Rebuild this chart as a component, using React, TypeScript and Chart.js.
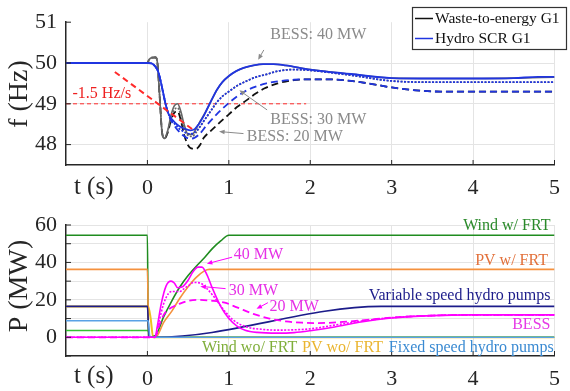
import React, { useEffect, useRef } from 'react';
import { Chart, registerables } from 'chart.js';
Chart.register(...registerables);

const FONT = "'Liberation Serif', 'Times New Roman', serif";
const GRID = '#e4e4e4';
const AXIS = '#262626';

// ---------- shared axis ----------
const xTicks = [-1, 0, 1, 2, 3, 4, 5];

// ---------- top: frequency (Hz) ----------
const fTicks = [48, 49, 50, 51];

const tH40 = [-1, 0, 0.05, 0.09, 0.13, 0.16, 0.19, 0.22, 0.25, 0.28, 0.31, 0.36, 0.41, 0.47, 0.53, 0.58, 0.63, 0.68, 0.73, 0.79, 0.85, 0.92, 1.0, 1.09, 1.18, 1.3, 1.42, 1.55, 1.7, 2.0, 2.5, 3.0, 3.5, 4.0, 4.5, 4.8, 5.0];
const fH40 = [50, 50, 49.99, 49.93, 49.8, 49.58, 49.3, 49.02, 48.8, 48.68, 48.6, 48.5, 48.43, 48.38, 48.35, 48.38, 48.5, 48.66, 48.86, 49.1, 49.33, 49.53, 49.68, 49.8, 49.88, 49.94, 49.97, 49.97, 49.94, 49.84, 49.73, 49.63, 49.62, 49.62, 49.63, 49.66, 49.66];

const tH30 = [-1, 0, 0.05, 0.09, 0.13, 0.16, 0.19, 0.22, 0.25, 0.28, 0.31, 0.36, 0.41, 0.47, 0.53, 0.58, 0.63, 0.7, 0.77, 0.85, 0.92, 1.0, 1.1, 1.22, 1.34, 1.46, 1.6, 1.8, 2.0, 2.5, 3.0, 3.5, 4.0, 5.0];
const fH30 = [50, 50, 49.99, 49.93, 49.8, 49.58, 49.3, 49.02, 48.8, 48.66, 48.57, 48.45, 48.36, 48.29, 48.26, 48.3, 48.4, 48.6, 48.8, 49.03, 49.18, 49.3, 49.44, 49.56, 49.66, 49.72, 49.8, 49.84, 49.82, 49.7, 49.56, 49.53, 49.53, 49.53];

const tH20 = [-1, 0, 0.05, 0.09, 0.13, 0.16, 0.19, 0.22, 0.25, 0.28, 0.32, 0.37, 0.43, 0.49, 0.55, 0.63, 0.73, 0.85, 1.0, 1.1, 1.22, 1.34, 1.46, 1.6, 1.8, 2.0, 2.2, 2.5, 2.8, 3.0, 3.3, 3.6, 4.0, 5.0];
const fH20 = [50, 50, 49.99, 49.93, 49.8, 49.58, 49.3, 49.02, 48.8, 48.63, 48.5, 48.36, 48.24, 48.16, 48.15, 48.24, 48.48, 48.74, 49.02, 49.18, 49.33, 49.43, 49.5, 49.55, 49.59, 49.6, 49.6, 49.56, 49.47, 49.4, 49.33, 49.3, 49.3, 49.3];

const tW40 = [-1, 0, 0.02, 0.05, 0.1, 0.12, 0.15, 0.18, 0.21, 0.25, 0.29, 0.33, 0.37, 0.41, 0.45, 0.5, 0.55, 0.6, 0.65, 0.73, 0.79, 0.85, 0.92, 1.0, 1.09, 1.18, 1.3, 1.42, 1.55, 1.7, 2.0, 2.5, 3.0, 3.5, 4.0, 4.5, 5.0];
const fW40 = [50, 50, 50.08, 50.13, 50.14, 50.05, 49.2, 48.3, 48.15, 48.35, 48.72, 48.95, 49.0, 48.82, 48.5, 48.25, 48.25, 48.4, 48.58, 48.86, 49.1, 49.33, 49.53, 49.68, 49.8, 49.88, 49.94, 49.97, 49.97, 49.94, 49.84, 49.73, 49.63, 49.62, 49.62, 49.63, 49.65];

const tW30 = [-1, 0, 0.02, 0.05, 0.1, 0.12, 0.15, 0.18, 0.21, 0.25, 0.29, 0.33, 0.37, 0.41, 0.45, 0.5, 0.55, 0.6, 0.65, 0.7, 0.77, 0.85, 0.92, 1.0, 1.1, 1.22, 1.34, 1.46, 1.6, 1.8, 2.0, 2.5, 3.0, 3.5, 4.0, 5.0];
const fW30 = [50, 50, 50.08, 50.13, 50.14, 50.05, 49.2, 48.3, 48.15, 48.33, 48.65, 48.85, 48.9, 48.72, 48.42, 48.22, 48.2, 48.3, 48.45, 48.6, 48.8, 49.03, 49.18, 49.3, 49.44, 49.56, 49.66, 49.72, 49.8, 49.84, 49.82, 49.7, 49.56, 49.53, 49.53, 49.53];

const tW20 = [-1, 0, 0.02, 0.05, 0.1, 0.12, 0.15, 0.18, 0.21, 0.25, 0.29, 0.33, 0.37, 0.41, 0.45, 0.5, 0.55, 0.6, 0.65, 0.69, 0.77, 0.85, 0.92, 1.0, 1.1, 1.22, 1.33, 1.44, 1.6, 1.8, 2.0, 2.2, 2.5, 2.8, 3.0, 3.3, 3.6, 4.0, 5.0];
const fW20 = [50, 50, 50.08, 50.13, 50.14, 50.05, 49.2, 48.3, 48.15, 48.3, 48.6, 48.78, 48.82, 48.6, 48.25, 47.98, 47.9, 47.9, 48.0, 48.16, 48.32, 48.47, 48.6, 48.74, 48.92, 49.09, 49.25, 49.38, 49.5, 49.58, 49.6, 49.6, 49.56, 49.47, 49.4, 49.33, 49.3, 49.3, 49.3];

const tRate = [-0.4, 0.55];
const fRate = [49.78, 48.38];
const tRef = [-1, 1.95];
const fRef = [49, 49];

// ---------- bottom: power (MW) ----------
const pTickMarks = [-10, 0, 10, 20, 30, 40, 50, 60];
const pTickLabels = [0, 20, 40, 60];

const tWindFRT = [-1, 0, 0.01, 0.1, 0.2, 0.3, 0.4, 0.5, 0.6, 0.7, 0.8, 0.9, 1.0, 5];
const pWindFRT = [54.5, 54.5, 0, 1, 11, 19.5, 27, 33, 38, 42.5, 47.5, 51.5, 54.5, 54.5];

const tPvFRT = [-1, 0, 0.015, 0.1, 0.2, 0.3, 0.4, 0.5, 0.6, 0.7, 0.76, 5];
const pPvFRT = [36.3, 36.3, 0, 0, 8, 14, 21, 27, 32, 35.5, 36.3, 36.3];

const tVarHydro = [-1, 0, 0.02, 0.1, 2.87, 5];
const pVarHydro = [16.5, 16.5, 0, 0, 16.5, 16.5];

const tFixHydro = [-1, 0.01, 0.03, 5];
const pFixHydro = [8.8, 8.8, 0, 0];

const tWindNo = [-1, 0.01, 0.03, 5];
const pWindNo = [3.6, 3.6, 0, 0];

const tPvNo = [-1, 0.01, 0.04, 0.07, 5];
const pPvNo = [16.5, 16.5, 10, 0, 0];

const tBess40 = [-1, 0.09, 0.13, 0.17, 0.23, 0.29, 0.33, 0.37, 0.43, 0.5, 0.56, 0.62, 0.67, 0.73, 0.8, 0.9, 1.0, 1.1, 1.2, 1.35, 1.6, 1.8, 2.0, 2.3, 2.6, 3.0, 3.5, 4.0, 5.0];
const pBess40 = [0, 0, 8, 18, 27.5, 30, 29, 26.5, 27, 30.5, 35, 37.5, 37.5, 33.5, 26, 16.5, 10, 6, 3.8, 2.6, 2.2, 2.5, 3.5, 5.5, 8, 10.3, 11.6, 12, 12];

const tBess30 = [-1, 0.09, 0.14, 0.2, 0.26, 0.3, 0.35, 0.4, 0.45, 0.5, 0.57, 0.65, 0.72, 0.82, 0.94, 1.06, 1.22, 1.4, 1.6, 1.8, 2.0, 2.3, 2.6, 3.0, 3.5, 4.0, 5.0];
const pBess30 = [0, 0, 8, 18, 23.5, 24.5, 24.5, 24.5, 26, 27.5, 29.3, 29, 26.5, 21.5, 14.5, 9, 5.5, 4.3, 3.8, 4, 4.5, 6.5, 8.5, 10.5, 11.6, 12, 12];

const tBess20 = [-1, 0.09, 0.15, 0.2, 0.25, 0.3, 0.4, 0.5, 0.6, 0.8, 0.95, 1.1, 1.3, 1.5, 1.7, 1.9, 2.1, 2.4, 2.7, 3.0, 3.5, 4.0, 5.0];
const pBess20 = [0, 0, 7, 12, 14.5, 16, 18, 19.5, 20, 19.5, 18.5, 16, 12.5, 10, 8.5, 7.8, 7.6, 8.2, 9.3, 10.5, 11.6, 12, 12];

const pts = (t: number[], v: number[]) => t.map((x, i) => ({ x, y: v[i] }));

function line(data: any, color: string, width = 1.5, dash: number[] = []) {
  return {
    data,
    borderColor: color,
    borderWidth: width,
    borderDash: dash,
    pointRadius: 0,
    fill: false,
    cubicInterpolationMode: 'monotone',
  };
}

function drawArrow(ctx: CanvasRenderingContext2D, x1: number, y1: number, x2: number, y2: number, color: string, head = 6) {
  const a = Math.atan2(y2 - y1, x2 - x1);
  ctx.save();
  ctx.strokeStyle = color;
  ctx.fillStyle = color;
  ctx.lineWidth = 1;
  ctx.beginPath();
  ctx.moveTo(x1, y1);
  ctx.lineTo(x2 - Math.cos(a) * head * 0.6, y2 - Math.sin(a) * head * 0.6);
  ctx.stroke();
  ctx.beginPath();
  ctx.moveTo(x2, y2);
  ctx.lineTo(x2 - head * Math.cos(a - 0.4), y2 - head * Math.sin(a - 0.4));
  ctx.lineTo(x2 - head * Math.cos(a + 0.4), y2 - head * Math.sin(a + 0.4));
  ctx.closePath();
  ctx.fill();
  ctx.restore();
}

function drawInward(chart: any, yVals: number[]) {
  const { ctx, chartArea, scales } = chart;
  ctx.save();
  ctx.strokeStyle = AXIS;
  ctx.lineWidth = 1;
  for (const v of xTicks) {
    if (v === -1) continue;
    const x = scales.x.getPixelForValue(v);
    ctx.beginPath();
    ctx.moveTo(x, chartArea.bottom);
    ctx.lineTo(x, chartArea.bottom - 5);
    ctx.stroke();
  }
  for (const v of yVals) {
    const y = scales.y.getPixelForValue(v);
    ctx.beginPath();
    ctx.moveTo(chartArea.left, y);
    ctx.lineTo(chartArea.left + 5, y);
    ctx.stroke();
  }
  ctx.restore();
}

function text(ctx: CanvasRenderingContext2D, s: string, x: number, y: number, color: string, size: number, align: CanvasTextAlign = 'left') {
  ctx.save();
  ctx.font = `${size}px ${FONT}`;
  ctx.fillStyle = color;
  ctx.textAlign = align;
  ctx.textBaseline = 'middle';
  ctx.fillText(s, x, y);
  ctx.restore();
}

function scales(yMin: number, yMax: number, yMarks: number[], yLabels: number[], hideGrid: number[]) {
  return {
    x: {
      type: 'linear',
      min: -1,
      max: 5,
      afterBuildTicks: (s: any) => { s.ticks = xTicks.map((v) => ({ value: v })); },
      ticks: {
        font: { family: FONT, size: 22 },
        color: AXIS,
        padding: 10,
        maxRotation: 0,
        autoSkip: false,
        callback: (v: any) => (v === -1 ? '' : String(v)),
      },
      grid: {
        drawTicks: false,
        lineWidth: 1,
        color: (c: any) => (c.tick && c.tick.value === -1 ? 'rgba(0,0,0,0)' : GRID),
      },
      border: { display: true, color: AXIS, width: 1.5 },
      afterFit: (s: any) => { s.height = 35; },
    },
    y: {
      type: 'linear',
      min: yMin,
      max: yMax,
      afterBuildTicks: (s: any) => { s.ticks = yMarks.map((v) => ({ value: v })); },
      ticks: {
        font: { family: FONT, size: 22 },
        color: AXIS,
        padding: 9,
        autoSkip: false,
        callback: (v: any) => (yLabels.includes(v) ? String(v) : ''),
      },
      grid: {
        drawTicks: false,
        lineWidth: 1,
        color: (c: any) => (c.tick && hideGrid.includes(c.tick.value) ? 'rgba(0,0,0,0)' : GRID),
      },
      border: { display: true, color: AXIS, width: 1.5 },
      afterFit: (s: any) => { s.width = 66; },
    },
  };
}

function topConfig(): any {
  const blue = '#2035e0';
  const grey = '#666666';
  const red = '#ff2a2a';
  const ann = '#8a8a8a';
  return {
    type: 'line',
    data: {
      datasets: [
        line(pts(tRate, fRate), red, 2, [6, 4]),
        line(pts(tH40, fH40), blue, 1.8),
        line(pts(tH30, fH30), blue, 1.8, [2, 1.5]),
        line(pts(tH20, fH20), blue, 1.8, [7, 4]),
        line(pts(tW40, fW40), grey, 1.6),
        line(pts(tW30, fW30), grey, 1.6, [2, 1.5]),
        line(pts(tW20, fW20), '#111111', 1.8, [7, 4]),
        line(pts(tRef, fRef), red, 1, [4, 3]),
      ],
    },
    options: {
      responsive: false,
      animation: false,
      events: [],
      layout: { padding: { left: 0, right: 6, top: 15, bottom: 0 } },
      plugins: { legend: { display: false }, tooltip: { enabled: false } },
      scales: scales(47.5, 51, fTicks, fTicks, [51]),
    },
    plugins: [
      {
        id: 'topDecor',
        afterDraw(chart: any) {
          const { ctx, scales: s } = chart;
          const X = (v: number) => s.x.getPixelForValue(v);
          const Y = (v: number) => s.y.getPixelForValue(v);
          drawInward(chart, fTicks);
          // annotations
          text(ctx, '-1.5 Hz/s', X(-0.92), Y(49.25), '#ee2020', 16);
          text(ctx, 'BESS: 40 MW', X(1.51), Y(50.7), ann, 16);
          drawArrow(ctx, X(1.43), Y(50.32), X(1.36), Y(50.08), ann);
          text(ctx, 'BESS: 30 MW', X(1.51), Y(48.62), ann, 16);
          drawArrow(ctx, X(1.47), Y(48.85), X(1.13), Y(49.33), ann);
          text(ctx, 'BESS: 20 MW', X(1.22), Y(48.2), ann, 16);
          drawArrow(ctx, X(1.18), Y(48.27), X(0.88), Y(48.32), ann);
          // axis titles
          ctx.save();
          ctx.translate(20, 94);
          ctx.rotate(-Math.PI / 2);
          text(ctx, 'f (Hz)', 0, 0, AXIS, 28, 'center');
          ctx.restore();
          text(ctx, 't (s)', X(-0.66), 187, AXIS, 25, 'center');
          // legend
          ctx.save();
          ctx.fillStyle = '#ffffff';
          ctx.fillRect(412, 7, 155, 43);
          ctx.strokeStyle = '#333333';
          ctx.lineWidth = 1.2;
          ctx.strokeRect(412.5, 7.5, 154, 42);
          ctx.lineWidth = 1.5;
          ctx.strokeStyle = '#111111';
          ctx.beginPath(); ctx.moveTo(415, 18.5); ctx.lineTo(433, 18.5); ctx.stroke();
          ctx.strokeStyle = blue;
          ctx.beginPath(); ctx.moveTo(415, 38.5); ctx.lineTo(433, 38.5); ctx.stroke();
          ctx.restore();
          text(ctx, 'Waste-to-energy G1', 435, 19, '#111111', 15.5);
          text(ctx, 'Hydro SCR G1', 435, 39, '#111111', 15.5);
        },
      },
    ],
  };
}

function botConfig(): any {
  const mag = '#ff00ff';
  const cWind = '#1f8c1f';
  const cPv = '#f5913e';
  const cVar = '#1c1c8a';
  const cFix = '#5aa2e6';
  const cWindNo = '#33c133';
  const cPvNo = '#efc020';
  return {
    type: 'line',
    data: {
      datasets: [
        line(pts(tBess40, pBess40), mag, 1.6),
        line(pts(tBess30, pBess30), mag, 1.6, [2, 1.5]),
        line(pts(tBess20, pBess20), mag, 1.8, [7, 4]),
        line(pts(tFixHydro, pFixHydro), cFix, 1.6),
        line(pts(tVarHydro, pVarHydro), cVar, 1.6),
        line(pts(tPvFRT, pPvFRT), cPv, 1.6),
        line(pts(tWindFRT, pWindFRT), cWind, 1.6),
        line(pts(tWindNo, pWindNo), cWindNo, 1.6),
        line(pts(tPvNo, pPvNo), cPvNo, 2),
      ],
    },
    options: {
      responsive: false,
      animation: false,
      events: [],
      layout: { padding: { left: 0, right: 6, top: 25, bottom: 0 } },
      plugins: { legend: { display: false }, tooltip: { enabled: false } },
      scales: scales(-10, 60, pTickMarks, pTickLabels, [-10]),
    },
    plugins: [
      {
        id: 'botDecor',
        afterDraw(chart: any) {
          const { ctx, scales: s } = chart;
          const X = (v: number) => s.x.getPixelForValue(v);
          const Y = (v: number) => s.y.getPixelForValue(v);
          drawInward(chart, pTickMarks);
          text(ctx, 'Wind w/ FRT', X(4.95), Y(59.5), '#2a8a2a', 16, 'right');
          text(ctx, 'PV w/ FRT', X(4.92), Y(41), '#e2703a', 16, 'right');
          text(ctx, 'Variable speed hydro pumps', X(4.95), Y(22), cVar, 16, 'right');
          text(ctx, 'BESS', X(4.95), Y(6.5), '#e63ae6', 16, 'right');
          text(ctx, 'Fixed speed hydro pumps', X(4.99), Y(-5.5), '#3a8ad2', 16, 'right');
          text(ctx, 'PV wo/ FRT', X(1.9), Y(-5.5), '#eab530', 16);
          text(ctx, 'Wind wo/ FRT', X(0.67), Y(-5.5), '#7fae3a', 16);
          text(ctx, '40 MW', X(1.06), Y(44), '#e630e6', 16);
          drawArrow(ctx, X(1.04), Y(42.8), X(0.73), Y(39.3), mag);
          text(ctx, '30 MW', X(1.0), Y(25), '#e630e6', 16);
          drawArrow(ctx, X(0.96), Y(26), X(0.65), Y(27.2), mag);
          text(ctx, '20 MW', X(1.5), Y(16.5), '#e630e6', 16);
          drawArrow(ctx, X(1.48), Y(18.5), X(1.34), Y(15.2), mag);
          ctx.save();
          ctx.translate(20, 86);
          ctx.rotate(-Math.PI / 2);
          text(ctx, 'P (MW)', 0, 0, AXIS, 28, 'center');
          ctx.restore();
          text(ctx, 't (s)', X(-0.66), 176, AXIS, 25, 'center');
        },
      },
    ],
  };
}

export default function App() {
  const topRef = useRef<HTMLCanvasElement>(null);
  const botRef = useRef<HTMLCanvasElement>(null);
  useEffect(() => {
    const c1 = new Chart(topRef.current as HTMLCanvasElement, topConfig());
    const c2 = new Chart(botRef.current as HTMLCanvasElement, botConfig());
    return () => {
      c1.destroy();
      c2.destroy();
    };
  }, []);
  return (
    <div style={{ position: 'absolute', left: 0, top: 0, width: 570, height: 391, background: '#ffffff' }}>
      <canvas ref={topRef} width={570} height={200} style={{ position: 'absolute', left: 0, top: 0, width: 570, height: 200 }} />
      <canvas ref={botRef} width={570} height={191} style={{ position: 'absolute', left: 0, top: 200, width: 570, height: 191 }} />
    </div>
  );
}
